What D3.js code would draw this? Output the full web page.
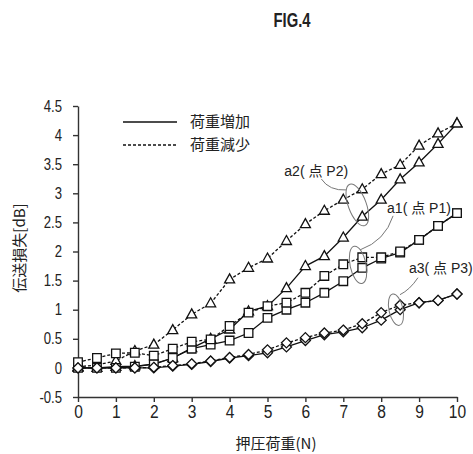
<!DOCTYPE html>
<html>
<head>
<meta charset="utf-8">
<script src="https://cdn.jsdelivr.net/npm/d3@7"></script>
<style>
  body { margin: 0; background: #fff; }
  svg { display: block; }
  .tick text, .title { font-family: "Liberation Sans", Arial, sans-serif; }
  .ann { font-family: "Liberation Sans", "Noto Sans CJK JP", sans-serif; }
  .cjk { font-family: "Noto Sans CJK JP", sans-serif; }
</style>
</head>
<body>
<div id="chart"></div>
<script>
// load (N)
const loads = [0, 0.5, 1, 1.5, 2, 2.5, 3, 3.5, 4, 4.5, 5, 5.5, 6, 6.5, 7, 7.5, 8, 8.5, 9, 9.5, 10];

// a2 (point P2), triangles
const a2Up   = [0.00, 0.00, 0.02, 0.03, 0.06, 0.17, 0.34, 0.50, 0.66, 0.97, 1.06, 1.37, 1.75, 1.92, 2.24, 2.60, 2.89, 3.24, 3.53, 3.85, 4.20];
const a2Down = [0.02, 0.05, 0.12, 0.29, 0.40, 0.65, 0.92, 1.11, 1.52, 1.72, 1.88, 2.18, 2.47, 2.70, 2.89, 3.07, 3.33, 3.49, 3.82, 4.03, 4.20];
// a1 (point P1), squares
const a1Up   = [0.00, 0.00, 0.00, 0.02, 0.07, 0.17, 0.33, 0.40, 0.47, 0.60, 0.86, 1.00, 1.12, 1.29, 1.49, 1.72, 1.88, 1.98, 2.20, 2.44, 2.66];
const a1Down = [0.10, 0.17, 0.25, 0.26, 0.21, 0.33, 0.45, 0.49, 0.72, 0.95, 1.06, 1.12, 1.29, 1.58, 1.78, 1.90, 1.90, 2.00, 2.20, 2.44, 2.66];
// a3 (point P3), diamonds
const a3Up   = [0.00, 0.00, 0.00, 0.00, 0.00, 0.03, 0.06, 0.11, 0.17, 0.21, 0.26, 0.36, 0.47, 0.57, 0.62, 0.69, 0.82, 1.00, 1.12, 1.16, 1.27];
const a3Down = [0.00, 0.00, 0.00, 0.00, 0.01, 0.04, 0.07, 0.12, 0.18, 0.23, 0.31, 0.43, 0.52, 0.60, 0.65, 0.76, 0.95, 1.08, 1.12, 1.16, 1.27];

const xTicks = [0, 1, 2, 3, 4, 5, 6, 7, 8, 9, 10];
const yTicks = [-0.5, 0, 0.5, 1, 1.5, 2, 2.5, 3, 3.5, 4, 4.5];
const legendLabels = ["荷重増加", "荷重減少"];

// annotation ellipse centres (load, dB)
const annotations = [
  {label: "a2( 点 P2)", x: 7.37, y: 2.80},
  {label: "a1( 点 P1)", x: 7.39, y: 1.77},
  {label: "a3( 点 P3)", x: 8.39, y: 1.00}
];

const W = 473, H = 454;
const margin = {top: 106, right: 16, bottom: 57, left: 78};
const width = W - margin.left - margin.right,
  height = H - margin.top - margin.bottom;

const svg = d3.select("#chart").append("svg")
  .attr("width", W)
  .attr("height", H);

// narrow lettering like the figure: squeeze text horizontally
svg.append("text")
  .attr("class", "title")
  .attr("transform", "translate(292,27) scale(0.74,1)")
  .attr("text-anchor", "middle")
  .style("font-size", "20px")
  .style("font-weight", "bold")
  .style("fill", "#222")
  .text("FIG.4");

const g = svg.append("g")
  .attr("transform", "translate(" + margin.left + "," + margin.top + ")");

const x = d3.scaleLinear().domain([0, 10]).range([0, width]);
const y = d3.scaleLinear().domain([-0.5, 4.5]).range([height, 0]);

const xAxis = g.append("g")
  .attr("transform", "translate(0," + height + ")")
  .call(d3.axisBottom(x).tickValues(xTicks).tickSize(5).tickSizeOuter(0).tickPadding(3).tickFormat(d3.format("d")));
xAxis.selectAll("text")
  .attr("transform", "scale(0.82,1)")
  .style("font-size", "19px")
  .style("fill", "#222");

const yAxis = g.append("g")
  .call(d3.axisLeft(y).tickValues(yTicks).tickSize(5).tickSizeOuter(0).tickFormat(d => d));
yAxis.selectAll("text")
  .attr("x", 0)
  .attr("transform", "translate(-16,0) scale(0.82,1)")
  .style("font-size", "16px")
  .style("fill", "#222");

g.selectAll(".domain, .tick line").attr("stroke", "#333").attr("stroke-width", 1.4);

// axis titles
svg.append("text")
  .attr("class", "cjk")
  .attr("x", 276).attr("y", 449)
  .attr("text-anchor", "middle")
  .style("font-size", "15px")
  .style("fill", "#222")
  .text("押圧荷重(N)");

svg.append("text")
  .attr("class", "cjk")
  .attr("transform", "translate(25,248) rotate(-90)")
  .attr("text-anchor", "middle")
  .style("font-size", "15px")
  .style("fill", "#222")
  .text("伝送損失[dB]");

// marker shapes
const shapes = {
  triangle: "M0,-5.5L5,3.5L-5,3.5Z",
  square: "M-4.3,-4.3H4.3V4.3H-4.3Z",
  diamond: "M0,-5L5,0L0,5L-5,0Z"
};

const series = [
  {values: a2Up, dash: null, shape: "triangle"},
  {values: a2Down, dash: "3,2", shape: "triangle"},
  {values: a1Up, dash: null, shape: "square"},
  {values: a1Down, dash: "3,2", shape: "square"},
  {values: a3Up, dash: null, shape: "diamond"},
  {values: a3Down, dash: "3,2", shape: "diamond"}
];

const line = d3.line()
  .x((d, i) => x(loads[i]))
  .y(d => y(d));

series.forEach(s => {
  g.append("path")
    .datum(s.values)
    .attr("fill", "none")
    .attr("stroke", "#111")
    .attr("stroke-width", 1.3)
    .attr("stroke-dasharray", s.dash)
    .attr("d", line);
});

series.forEach(s => {
  g.selectAll(null)
    .data(s.values)
    .enter().append("path")
    .attr("transform", (d, i) => "translate(" + x(loads[i]) + "," + y(d) + ")")
    .attr("d", shapes[s.shape])
    .attr("fill", "#fff")
    .attr("stroke", "#111")
    .attr("stroke-width", 1.3);
});

// legend
const legend = svg.append("g").attr("transform", "translate(123,122)");
legendLabels.forEach((lab, i) => {
  legend.append("line")
    .attr("x1", 0).attr("x2", 54)
    .attr("y1", i * 23).attr("y2", i * 23)
    .attr("stroke", "#111")
    .attr("stroke-width", 1.4)
    .attr("stroke-dasharray", i ? "3,2" : null);
  legend.append("text")
    .attr("class", "cjk")
    .attr("x", 67).attr("y", i * 23 + 5)
    .style("font-size", "15px")
    .style("fill", "#222")
    .text(lab);
});

// annotations: label, leader and ring around the pair of points
const annStyle = [
  {tx: -73, ty: -29, lead: "M-36,-26Q-28,-14,-11,-15", rx: 9, ry: 22, rot: -20},
  {tx: 29, ty: -52, lead: "M35,-49Q27,-24,2,-15", rx: 8, ry: 19, rot: -12},
  {tx: 13, ty: -37, lead: "M22,-32Q14,-20,4,-15", rx: 7, ry: 16, rot: -12}
];

annotations.forEach((a, i) => {
  const st = annStyle[i];
  const ag = g.append("g")
    .attr("transform", "translate(" + x(a.x) + "," + y(a.y) + ")");
  ag.append("ellipse")
    .attr("rx", st.rx).attr("ry", st.ry)
    .attr("transform", "rotate(" + st.rot + ")")
    .attr("fill", "none")
    .attr("stroke", "#777")
    .attr("stroke-width", 1);
  ag.append("path")
    .attr("d", st.lead)
    .attr("fill", "none")
    .attr("stroke", "#777")
    .attr("stroke-width", 1);
  ag.append("text")
    .attr("class", "ann")
    .attr("x", st.tx).attr("y", st.ty)
    .style("font-size", "14px")
    .style("fill", "#222")
    .text(a.label);
});
</script>
</body>
</html>
